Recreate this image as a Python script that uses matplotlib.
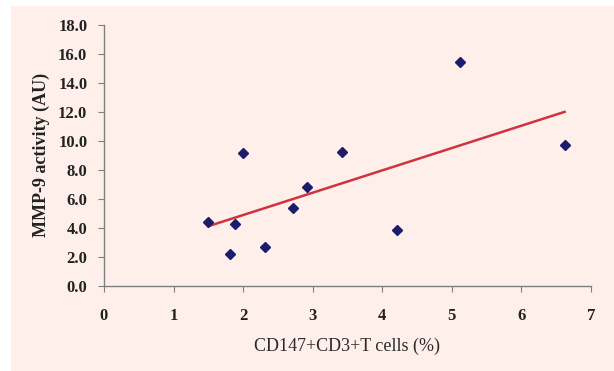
import numpy as np
import matplotlib
matplotlib.use("Agg")
import matplotlib.pyplot as plt
from matplotlib.patches import Rectangle

# data
cd147_pct = [1.50, 1.81, 1.89, 2.00, 2.32, 2.71, 2.92, 3.42, 4.21, 5.12, 6.62]
mmp9_au = [4.40, 2.16, 4.22, 9.15, 2.63, 5.35, 6.78, 9.24, 3.85, 15.42, 9.68]
x_ticks = [0, 1, 2, 3, 4, 5, 6, 7]
y_ticks = [0, 2, 4, 6, 8, 10, 12, 14, 16, 18]

pink = "#FEEFEA"
serif = ["Liberation Serif", "DejaVu Serif"]

fig = plt.figure(figsize=(6.14, 3.71), dpi=100)
fig.patches.append(Rectangle((11 / 614, 0), 1, 1 - 6 / 371, transform=fig.transFigure,
                             facecolor=pink, edgecolor="none", zorder=-10))

ax = fig.add_axes([104 / 614, 1 - 285.5 / 371, (591 - 104) / 614, (285.5 - 25) / 371])
ax.set_facecolor(pink)

ax.plot(cd147_pct, mmp9_au, "D", color="#1C1C6E", markersize=5.5, zorder=3)

# least squares trend line over the data range
k, b = np.polyfit(cd147_pct, mmp9_au, 1)
xs = np.array([min(cd147_pct), max(cd147_pct)])
ax.plot(xs, k * xs + b, color="#CF3340", linewidth=1.8, zorder=2)

ax.set_xlim(0, 7)
ax.set_ylim(0, 18)
ax.set_xticks(x_ticks)
ax.set_yticks(y_ticks)
ax.set_xticklabels([str(t) for t in x_ticks], fontfamily=serif, fontweight="bold", fontsize=12)
ax.set_yticklabels([f"{t:.1f}" for t in y_ticks], fontfamily=serif, fontweight="bold", fontsize=12)

for s in ["top", "right"]:
    ax.spines[s].set_visible(False)
for s in ["left", "bottom"]:
    ax.spines[s].set_color("#7F7F7F")
    ax.spines[s].set_linewidth(1.0)
ax.tick_params(axis="both", direction="out", length=4, color="#7F7F7F", colors="#222222")
ax.tick_params(axis="x", pad=12)
ax.tick_params(axis="y", pad=8)

ax.set_xlabel("CD147+CD3+T cells (%)", fontfamily=serif, fontsize=13, color="#2a2a2a", labelpad=10)
ax.set_ylabel("MMP-9 activity (AU)", fontfamily=serif, fontweight="bold", fontsize=13,
              color="#222222", labelpad=6)

fig.savefig("out.png", dpi=100, facecolor="white")
